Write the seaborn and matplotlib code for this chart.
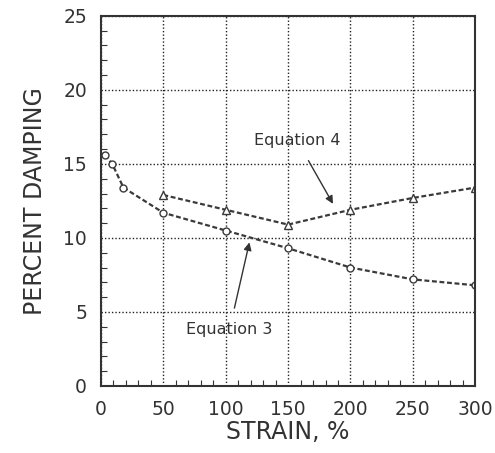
import numpy as np
import pandas as pd
import matplotlib
matplotlib.use("Agg")
import matplotlib.pyplot as plt
import seaborn as sns

# Dados
strain_eq3 = [3, 9, 18, 50, 100, 150, 200, 250, 300]
damping_eq3 = [15.6, 15.0, 13.4, 11.7, 10.5, 9.3, 8.0, 7.2, 6.8]
strain_eq4 = [50, 100, 150, 200, 250, 300]
damping_eq4 = [12.9, 11.9, 10.9, 11.9, 12.7, 13.4]

x_ticks = [0, 50, 100, 150, 200, 250, 300]
y_ticks = [0, 5, 10, 15, 20, 25]

df3 = pd.DataFrame({"strain": strain_eq3, "damping": damping_eq3})
df4 = pd.DataFrame({"strain": strain_eq4, "damping": damping_eq4})

sns.set_style("white")
plt.rcParams["font.family"] = ["DejaVu Sans"]

fig = plt.figure(figsize=(4.95, 4.53), dpi=100)
ax = fig.add_axes([0.204, 0.148, 0.756, 0.817])

ink = "#3a3a3a"
sns.lineplot(data=df3, x="strain", y="damping", ax=ax, color=ink,
             linestyle=(0, (2.2, 1.2)), linewidth=1.6, marker="o",
             markersize=5, markerfacecolor="white", markeredgecolor=ink,
             markeredgewidth=1.0)
sns.lineplot(data=df4, x="strain", y="damping", ax=ax, color=ink,
             linestyle=(0, (2.2, 1.2)), linewidth=1.6, marker="^",
             markersize=6, markerfacecolor="white", markeredgecolor=ink,
             markeredgewidth=1.0)

ax.set_xlim(0, 300)
ax.set_ylim(0, 25)
ax.set_xticks(x_ticks)
ax.set_yticks(y_ticks)
ax.set_xticks(np.arange(0, 301, 10), minor=True)
ax.set_yticks(np.arange(0, 26, 1), minor=True)
ax.grid(True, which="major", color="#222222", linestyle=(0, (1, 1.5)), linewidth=1.0)
ax.tick_params(which="major", direction="in", length=0, labelsize=13.5,
               labelcolor="#333333", pad=10)
ax.tick_params(which="minor", direction="in", length=4, width=0.8, color="#333333",
               bottom=True, left=True)
for s in ax.spines.values():
    s.set_color("#333333")
    s.set_linewidth(1.5)

ax.set_xlabel("STRAIN, %", fontsize=17, color="#333333", labelpad=1)
ax.set_ylabel("PERCENT DAMPING", fontsize=17, color="#333333", labelpad=12)

ax.annotate("Equation 4", xy=(186, 12.3), xytext=(157, 16.6),
            ha="center", va="center", fontsize=11.5, color="#333333",
            arrowprops=dict(arrowstyle="-|>", color="#333333", lw=1.0,
                            shrinkA=8, shrinkB=0))
ax.annotate("Equation 3", xy=(119, 9.7), xytext=(103, 3.8),
            ha="center", va="center", fontsize=11.5, color="#333333",
            arrowprops=dict(arrowstyle="-|>", color="#333333", lw=1.0,
                            shrinkA=8, shrinkB=0))

fig.savefig("out.png", dpi=100)
